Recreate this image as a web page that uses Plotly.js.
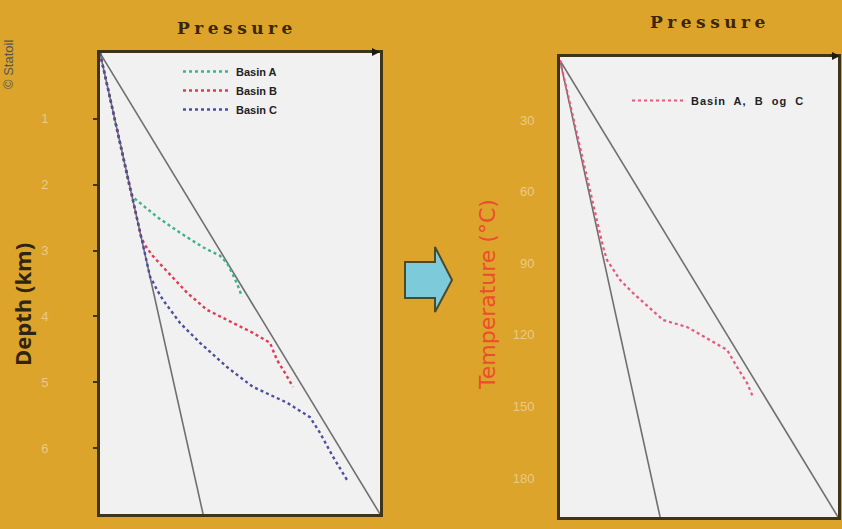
<!DOCTYPE html>
<html>
<head>
<meta charset="utf-8">
<script src="https://cdn.plot.ly/plotly-3.0.1.min.js"></script>
<style>
html,body{margin:0;padding:0;background:#DCA42A;}
text[data-unformatted="Pressure"]{letter-spacing:4.5px;}
text[data-unformatted="Basin A, B og C"]{letter-spacing:1px;word-spacing:4px;}
</style>
</head>
<body>
<div id="chart" style="width:842px;height:529px;"></div>
<script>
// ---- Left panel: depth (km) vs pressure (relative units 0-100) ----
const depthTicks = [1, 2, 3, 4, 5, 6];
const hydroP = [0, 36.8];
const hydroDepth = [0, 7];
const lithoP = [0, 100];
const lithoDepth = [0, 7];

const basinA_P = [0, 10.6, 11.8, 16.1, 20.4, 28.6, 36.8, 42.9, 45.4, 47.5, 49.3, 50.7];
const basinA_D = [0, 2.05, 2.19, 2.34, 2.49, 2.73, 2.95, 3.08, 3.19, 3.37, 3.54, 3.70];

const basinB_P = [0, 14.7, 16.1, 18.6, 22.5, 31.1, 38.2, 47.5, 54.6, 60.7, 63.2, 66.1, 68.9];
const basinB_D = [0, 2.80, 2.92, 3.07, 3.25, 3.64, 3.90, 4.10, 4.25, 4.40, 4.66, 4.86, 5.07];

const basinC_P = [0, 17.9, 18.6, 20.4, 22.5, 28.6, 35.7, 45.4, 54.6, 66.8, 75.0, 78.6, 83.2, 88.6];
const basinC_D = [0, 3.40, 3.45, 3.60, 3.75, 4.10, 4.40, 4.77, 5.07, 5.31, 5.53, 5.77, 6.13, 6.51];

// ---- Right panel: temperature (°C) vs pressure ----
const tempTicks = [30, 60, 90, 120, 150, 180];
const hydroP2 = [0, 36];
const hydroT = [5, 196.3];
const lithoP2 = [0, 100];
const lithoT = [5, 196.3];
const basinABC_P = [0, 15.5, 16.9, 21.6, 26.3, 32.4, 37.1, 45.7, 54.0, 60.1, 63.7, 67.3, 69.4];
const basinABC_T = [5, 83.2, 88.6, 97.0, 102.5, 108.8, 113.8, 116.7, 122.2, 126.3, 133.5, 140.2, 146.0];

const labels = {
  title: "Pressure",
  depth: "Depth (km)",
  temp: "Temperature (°C)",
  basins: ["Basin A", "Basin B", "Basin C"],
  combined: "Basin A, B og C",
  credit: "© Statoil"
};

const W = 842, H = 529;
const px = v => v / W;
const py = v => 1 - v / H;

const gray = {color: '#6f6f6f', width: 1.6};
const traces = [
  {x: hydroP, y: hydroDepth, mode: 'lines', line: gray, showlegend: false, hoverinfo: 'skip'},
  {x: lithoP, y: lithoDepth, mode: 'lines', line: gray, showlegend: false, hoverinfo: 'skip'},
  {x: basinA_P, y: basinA_D, mode: 'lines', name: labels.basins[0], line: {color: '#3DB28C', width: 2.4, dash: 'dot'}, legend: 'legend'},
  {x: basinB_P, y: basinB_D, mode: 'lines', name: labels.basins[1], line: {color: '#E23A55', width: 2.4, dash: 'dot'}, legend: 'legend'},
  {x: basinC_P, y: basinC_D, mode: 'lines', name: labels.basins[2], line: {color: '#4B4F9E', width: 2.4, dash: 'dot'}, legend: 'legend'},
  {x: hydroP2, y: hydroT, xaxis: 'x2', yaxis: 'y2', mode: 'lines', line: gray, showlegend: false, hoverinfo: 'skip'},
  {x: lithoP2, y: lithoT, xaxis: 'x2', yaxis: 'y2', mode: 'lines', line: gray, showlegend: false, hoverinfo: 'skip'},
  {x: basinABC_P, y: basinABC_T, xaxis: 'x2', yaxis: 'y2', mode: 'lines', name: labels.combined, line: {color: '#E8587A', width: 2.2, dash: 'dot'}, legend: 'legend2'}
];

const border = '#3e3419';
const tickFont = {family: 'Liberation Sans, Arial, sans-serif', size: 13, color: '#EACB86'};
const baseX = {range: [0, 100], showticklabels: false, ticks: '', showgrid: false, zeroline: false,
  showline: true, mirror: true, linecolor: border, linewidth: 3, fixedrange: true};
const legFont = {family: 'Liberation Sans, Arial, sans-serif', size: 11, color: '#222', weight: 'bold'};

const layout = {
  width: W, height: H,
  margin: {l: 0, r: 0, t: 0, b: 0},
  paper_bgcolor: '#DCA42A',
  plot_bgcolor: '#F1F1F1',
  xaxis: Object.assign({}, baseX, {domain: [px(100), px(380)], anchor: 'y'}),
  yaxis: {domain: [py(514), py(53)], range: [7, 0], anchor: 'x', tickvals: depthTicks,
    ticks: 'outside', ticklen: 4, tickwidth: 2, tickcolor: border, ticklabelstandoff: 42,
    tickfont: tickFont, showgrid: false, zeroline: false, showline: true, mirror: true,
    linecolor: border, linewidth: 3},
  xaxis2: Object.assign({}, baseX, {domain: [px(560), px(838)], anchor: 'y2'}),
  yaxis2: {domain: [py(517), py(57)], range: [196.3, 3.6], anchor: 'x2', tickvals: tempTicks,
    ticks: '', ticklabelstandoff: 20, tickfont: tickFont, showgrid: false, zeroline: false,
    showline: true, mirror: true, linecolor: border, linewidth: 3},
  legend: {x: px(178), y: py(57), xanchor: 'left', yanchor: 'top', bgcolor: 'rgba(0,0,0,0)',
    itemwidth: 48, font: legFont},
  legend2: {x: px(627), y: py(86), xanchor: 'left', yanchor: 'top', bgcolor: 'rgba(0,0,0,0)',
    itemwidth: 54, font: legFont},
  annotations: [
    {xref: 'paper', yref: 'paper', x: px(237), y: py(28), xanchor: 'center', yanchor: 'middle',
      text: labels.title, showarrow: false,
      font: {family: 'DejaVu Serif, serif', size: 17, color: '#3a2708', weight: 'bold'}},
    {xref: 'paper', yref: 'paper', x: px(710), y: py(22), xanchor: 'center', yanchor: 'middle',
      text: labels.title, showarrow: false,
      font: {family: 'DejaVu Serif, serif', size: 17, color: '#3a2708', weight: 'bold'}},
    {xref: 'paper', yref: 'paper', x: px(22), y: py(305), xanchor: 'center', yanchor: 'middle',
      text: labels.depth, showarrow: false, textangle: -90,
      font: {family: 'Open Sans, sans-serif', size: 22, color: '#2e2410', weight: 'bold'}},
    {xref: 'paper', yref: 'paper', x: px(487), y: py(295), xanchor: 'center', yanchor: 'middle',
      text: labels.temp, showarrow: false, textangle: -90,
      font: {family: 'DejaVu Sans, sans-serif', size: 22, color: '#EE4C2E'}},
    {xref: 'paper', yref: 'paper', x: px(9), y: py(65), xanchor: 'center', yanchor: 'middle',
      text: labels.credit, showarrow: false, textangle: -90,
      font: {family: 'Liberation Sans, Arial, sans-serif', size: 13, color: '#555'}},
    {xref: 'paper', yref: 'paper', x: px(380), y: py(52), ax: -10, ay: 0, text: '', showarrow: true,
      arrowhead: 2, arrowsize: 0.8, arrowwidth: 2, arrowcolor: '#1e1a10'},
    {xref: 'paper', yref: 'paper', x: px(840), y: py(56), ax: -10, ay: 0, text: '', showarrow: true,
      arrowhead: 2, arrowsize: 0.8, arrowwidth: 2, arrowcolor: '#1e1a10'}
  ],
  shapes: [
    {type: 'path', xref: 'paper', yref: 'paper',
      path: 'M' + px(405) + ',' + py(262) + ' L' + px(435) + ',' + py(262) + ' L' + px(435) + ',' + py(247) +
            ' L' + px(452) + ',' + py(280) + ' L' + px(435) + ',' + py(312) + ' L' + px(435) + ',' + py(298) +
            ' L' + px(405) + ',' + py(298) + ' Z',
      fillcolor: '#7DCADB', line: {color: '#4b4a2c', width: 2}}
  ]
};

Plotly.newPlot('chart', traces, layout, {displayModeBar: false, staticPlot: true});
</script>
</body>
</html>
